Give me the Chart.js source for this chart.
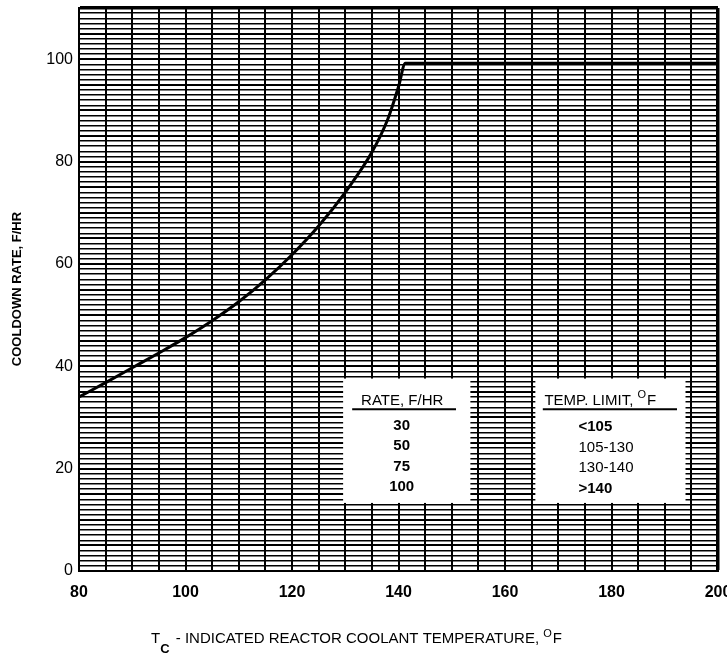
<!DOCTYPE html>
<html>
<head>
<meta charset="utf-8">
<script src="https://cdn.jsdelivr.net/npm/chart.js@4.4.1/dist/chart.umd.min.js"></script>
<style>
  body { margin: 0; background: #fff; }
  #chart { display: block; }
</style>
</head>
<body>
<canvas id="chart" width="727" height="656"></canvas>
<script>
// curve: coolant temperature (F) vs allowed cooldown rate (F/hr)
var temps = [80, 85, 90, 95, 100, 105, 110, 115, 120, 125, 130, 135, 138, 140, 141.3, 200];
var rates = [34, 36.8, 39.7, 42.6, 45.6, 48.9, 52.6, 56.9, 61.8, 67.4, 74, 81.8, 88.3, 94.6, 99.2, 99.2];

// axis ticks
var xTickLabels = [80, 100, 120, 140, 160, 180, 200];
var yTickLabels = [0, 20, 40, 60, 80, 100];

// the little table printed on the chart
var rateHeader = "RATE, F/HR";
var rateRows = ["30", "50", "75", "100"];
var limitHeader = "TEMP. LIMIT, ";
var limitRows = ["<105", "105-130", "130-140", ">140"];

var FONT = "'Liberation Sans', Arial, sans-serif";

var points = temps.map(function (t, i) { return {x: t, y: rates[i]}; });

// draws the white table boxes and the axis titles
var annotations = {
  id: 'annotations',
  afterDatasetsDraw: function (chart) {
    var c = chart.ctx;
    var xs = chart.scales.x, ys = chart.scales.y;
    var px = function (v) { return xs.getPixelForValue(v); };
    var py = function (v) { return ys.getPixelForValue(v); };
    c.save();

    // white boxes
    c.fillStyle = '#fff';
    c.fillRect(px(129.6), py(37.6), px(153.5) - px(129.6), py(13.3) - py(37.6));
    c.fillRect(px(165.7), py(37.6), px(193.9) - px(165.7), py(13.3) - py(37.6));

    c.fillStyle = '#000';
    c.strokeStyle = '#000';
    c.textBaseline = 'middle';

    // rate column
    c.font = '15px ' + FONT;
    c.textAlign = 'center';
    c.fillText(rateHeader, px(140.7), py(33.3));
    c.lineWidth = 2;
    c.beginPath();
    c.moveTo(px(131.3), py(31.6));
    c.lineTo(px(150.8), py(31.6));
    c.stroke();
    c.font = 'bold 15px ' + FONT;
    var rowY = [28.4, 24.4, 20.4, 16.4];
    rateRows.forEach(function (r, i) { c.fillText(r, px(140.6), py(rowY[i])); });

    // temperature limit column
    c.font = '15px ' + FONT;
    c.textAlign = 'left';
    var hx = px(167.4);
    c.fillText(limitHeader, hx, py(33.3));
    var w = c.measureText(limitHeader).width;
    c.font = '11px ' + FONT;
    c.fillText('O', hx + w, py(33.3) - 6);
    var w2 = c.measureText('O').width;
    c.font = '15px ' + FONT;
    c.fillText('F', hx + w + w2 + 1, py(33.3));
    c.beginPath();
    c.moveTo(px(167.1), py(31.6));
    c.lineTo(px(192.3), py(31.6));
    c.stroke();
    limitRows.forEach(function (r, i) {
      c.font = (i === 0 || i === 3 ? 'bold ' : '') + '15px ' + FONT;
      c.fillText(r, px(173.8), py(rowY[i] - 0.3));
    });

    // x axis title with subscript and degree mark
    c.textBaseline = 'alphabetic';
    c.font = '15px ' + FONT;
    var tx = 151, ty = 643;
    c.fillText('T', tx, ty);
    tx += c.measureText('T').width;
    c.font = 'bold 13px ' + FONT;
    c.fillText('C', tx, ty + 10);
    tx += c.measureText('C').width + 2;
    c.font = '15px ' + FONT;
    var rest = ' - INDICATED REACTOR COOLANT TEMPERATURE, ';
    c.fillText(rest, tx, ty);
    tx += c.measureText(rest).width;
    c.font = '11px ' + FONT;
    c.fillText('O', tx, ty - 6);
    tx += c.measureText('O').width + 1;
    c.font = '15px ' + FONT;
    c.fillText('F', tx, ty);

    // y axis title
    c.translate(17, 289);
    c.rotate(-Math.PI / 2);
    c.textAlign = 'center';
    c.textBaseline = 'middle';
    c.font = 'bold 13px ' + FONT;
    c.fillText('COOLDOWN RATE, F/HR', 0, 0);
    c.restore();
  }
};

var ctx = document.getElementById('chart').getContext('2d');
var myChart = new Chart(ctx, {
  type: 'line',
  data: {
    datasets: [{
      data: points,
      borderColor: '#000',
      borderWidth: 3,
      pointRadius: 0,
      cubicInterpolationMode: 'monotone',
      fill: false
    }]
  },
  options: {
    responsive: false,
    animation: false,
    layout: { padding: { top: 8, right: 9, left: 0, bottom: 0 } },
    plugins: { legend: { display: false }, tooltip: { enabled: false } },
    scales: {
      x: {
        type: 'linear',
        min: 80,
        max: 200,
        afterFit: function (scale) {
          scale.height = 85;
          scale.paddingLeft = 0;
          scale.paddingRight = 0;
        },
        border: { color: '#000', width: 2 },
        grid: {
          color: '#000',
          drawTicks: false,
          lineWidth: function (c) { return c.tick && c.tick.value === 200 ? 3.5 : 2; }
        },
        ticks: {
          stepSize: 5,
          autoSkip: false,
          maxRotation: 0,
          padding: 12,
          color: '#000',
          font: { family: FONT, size: 16, weight: 'bold' },
          callback: function (v) { return xTickLabels.indexOf(v) >= 0 ? v : ''; }
        }
      },
      y: {
        min: 0,
        max: 110,
        afterFit: function (scale) {
          scale.width = 79;
          scale.paddingTop = 0;
          scale.paddingBottom = 0;
        },
        border: { color: '#000', width: 2 },
        grid: {
          color: '#000',
          drawTicks: false,
          lineWidth: function (c) {
            if (!c.tick) return 1.4;
            if (c.tick.value === 110) return 3.5;
            return c.tick.value % 5 === 0 ? 2 : 1.4;
          }
        },
        ticks: {
          stepSize: 1,
          autoSkip: false,
          padding: 6,
          color: '#000',
          font: { family: FONT, size: 16 },
          callback: function (v) { return yTickLabels.indexOf(v) >= 0 ? v : ''; }
        }
      }
    }
  },
  plugins: [annotations]
});
</script>
</body>
</html>
